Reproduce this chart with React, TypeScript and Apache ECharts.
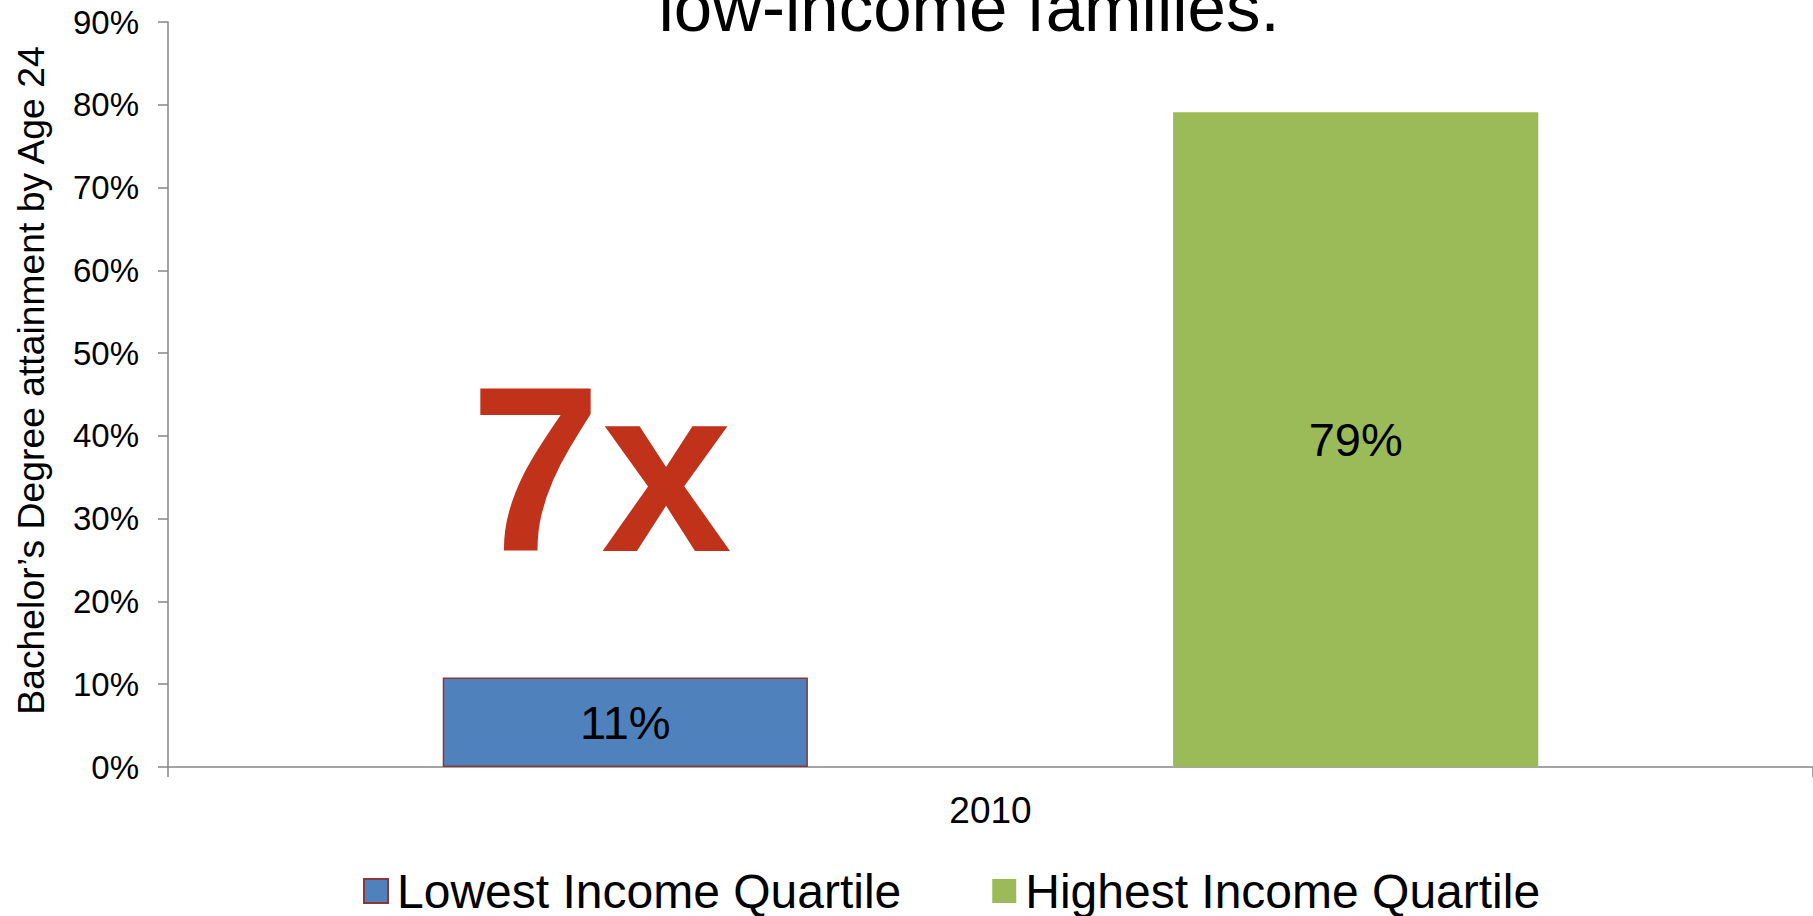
import React, { useEffect, useRef } from "react";
import * as echarts from "echarts";

const categories = ["2010"];
const seriesNames = ["Lowest Income Quartile", "Highest Income Quartile"];
const lowestValues = [10.8];
const highestValues = [79.1];
const yAxisName = "Bachelor\u2019s Degree attainment by Age 24";
const titleText = "low-income families.";
const calloutText = "7x";

const FONT = '"Liberation Sans", Arial, Helvetica, sans-serif';

export default function App() {
  const ref = useRef<HTMLDivElement>(null);
  useEffect(() => {
    document.body.style.margin = "0";
    if (!ref.current) return;
    const chart = echarts.init(ref.current, null, { renderer: "svg" });
    const labelStyle = {
      show: true,
      position: "inside",
      color: "#000",
      fontSize: 47,
      fontFamily: FONT,
      formatter: (p: any) => Math.round(p.value) + "%",
    };
    chart.setOption({
      animation: false,
      backgroundColor: "#ffffff",
      textStyle: { fontFamily: FONT },
      grid: { left: 168, right: 0, top: 22, bottom: 149, containLabel: false },
      legend: {
        left: 358,
        top: 862,
        itemWidth: 24,
        itemHeight: 24,
        itemGap: 91,
        icon: "rect",
        textStyle: { fontSize: 48, color: "#000", fontFamily: FONT, padding: [0, 0, 0, 4] },
        data: seriesNames,
      },
      xAxis: {
        type: "category",
        data: categories,
        axisLine: { lineStyle: { color: "#868686", width: 1.5 } },
        axisTick: { show: true, length: 10, lineStyle: { color: "#868686", width: 1.5 } },
        axisLabel: { fontSize: 37, color: "#000", margin: 25, fontFamily: FONT },
      },
      yAxis: {
        type: "value",
        min: 0,
        max: 90,
        interval: 10,
        name: yAxisName,
        nameLocation: "middle",
        nameGap: 119,
        nameTextStyle: { fontSize: 37.3, color: "#000", fontFamily: FONT, padding: [0, 0, 0, 28] },
        axisLine: { show: true, lineStyle: { color: "#868686", width: 1.5 } },
        axisTick: { show: true, length: 10, lineStyle: { color: "#868686", width: 1.5 } },
        splitLine: { show: false },
        axisLabel: { fontSize: 33, color: "#000", margin: 29, fontFamily: FONT, formatter: "{value}%" },
      },
      series: [
        {
          name: seriesNames[0],
          type: "bar",
          data: lowestValues,
          barWidth: "22.2%",
          barGap: "100%",
          itemStyle: { color: "#4F81BD", borderColor: "#8C3836", borderWidth: 1.5 },
          label: labelStyle,
        },
        {
          name: seriesNames[1],
          type: "bar",
          data: highestValues,
          barWidth: "22.2%",
          barGap: "100%",
          itemStyle: { color: "#9BBB59" },
          label: labelStyle,
        },
      ],
      graphic: [
        {
          type: "text",
          x: 969,
          y: 7,
          style: {
            text: titleText,
            fontSize: 69,
            fontFamily: FONT,
            fill: "#000",
            textAlign: "center",
            textVerticalAlign: "middle",
          },
        },
        {
          type: "text",
          x: 601,
          y: 469.5,
          style: {
            text: calloutText,
            fontSize: 235,
            fontWeight: "bold",
            fontFamily: FONT,
            fill: "#C0321A",
            textAlign: "center",
            textVerticalAlign: "middle",
          },
        },
      ],
    });
    return () => chart.dispose();
  }, []);
  return <div ref={ref} style={{ width: 1813, height: 916 }} />;
}
